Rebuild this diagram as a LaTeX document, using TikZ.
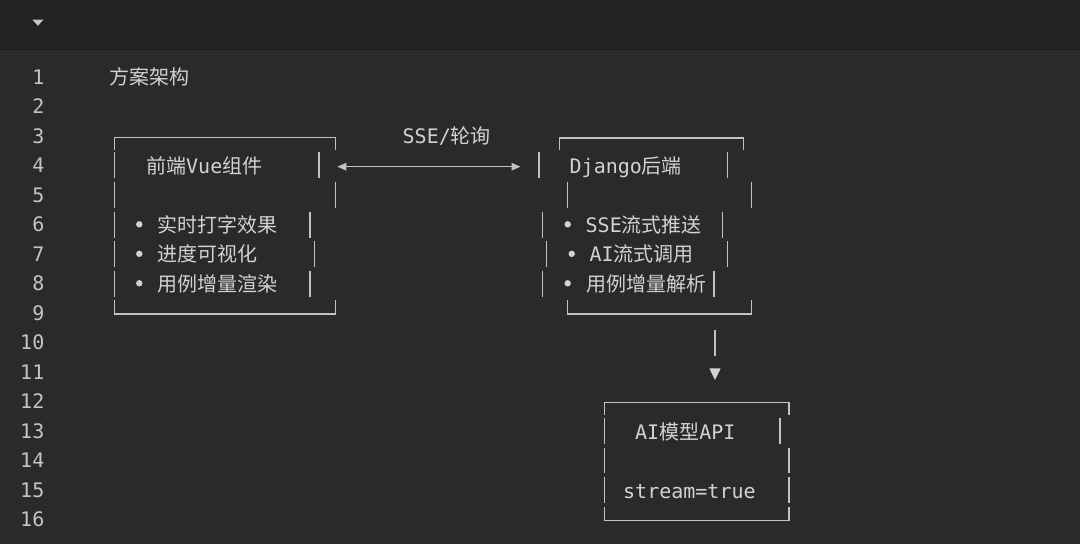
\documentclass[tikz,border=0pt]{standalone}
\usepackage{fontspec}
\setmainfont{DejaVu Sans Mono}
\newfontfamily\cjk{Noto Sans CJK SC}
\usetikzlibrary{arrows.meta}
\definecolor{bgmain}{HTML}{2A2A2A}
\definecolor{bgbar}{HTML}{232323}
\definecolor{sepline}{HTML}{1B1B1B}
\definecolor{ink}{HTML}{D2D2D2}
\definecolor{lineink}{HTML}{C2C2C2}
\definecolor{numink}{HTML}{C4C4C4}
\tikzset{
  txt/.style={anchor=base west,inner sep=0pt,text=ink,font=\fontsize{20}{24}\selectfont},
  lnum/.style={anchor=base east,inner sep=0pt,text=numink,font=\fontsize{20}{24}\selectfont},
  boxline/.style={draw=lineink,line width=1.4pt,line cap=butt},
  bullet/.style={fill=ink,draw=none},
  link/.style={draw=lineink,line width=1.4pt,{Triangle[length=9pt,width=7.5pt]}-{Triangle[length=9pt,width=7.5pt]}},
}
\begin{document}
\begin{tikzpicture}[x=1pt,y=-1pt]
\useasboundingbox (0,0) rectangle (1080,544);
\fill[bgmain] (0,0) rectangle (1080,544);
\fill[bgbar] (0,0) rectangle (1080,49);
\draw[sepline,line width=1.2pt] (0,49.5) -- (1080,49.5);
\fill[numink] (32.3,19.5) -- (43.5,19.5) -- (37.9,25.8) -- cycle;
% line numbers
\foreach \n in {1,...,16}{
  \node[lnum] (ln\n) at (44.5,{76.5+(\n-1)*29.53+7.5}) {\n};
}
% title
\node[txt] (title) at (109.5,84) {\cjk 方案架构};
% ---------- left box (lines 3-9) ----------
\draw[boxline] (114.3,149.5) -- (114.3,137.5) -- (335.7,137.5) -- (335.7,149.5);
\draw[boxline] (114.3,152.3) -- (114.3,178.3);
\draw[boxline] (319,152.3) -- (319,178.3);
\draw[boxline] (114.3,181.7) -- (114.3,208.3);
\draw[boxline] (335.7,181.7) -- (335.7,208.3);
\draw[boxline] (114.3,211.5) -- (114.3,237.8);
\draw[boxline] (310,211.5) -- (310,237.8);
\draw[boxline] (114.3,241.2) -- (114.3,267.2);
\draw[boxline] (314.3,241.2) -- (314.3,267.2);
\draw[boxline] (114.3,270.7) -- (114.3,296.7);
\draw[boxline] (310,270.7) -- (310,296.7);
\draw[boxline] (114.3,300) -- (114.3,314) -- (335.7,314) -- (335.7,300);
\node[txt] (fe) at (146,173) {{\cjk 前端}Vue{\cjk 组件}};
\fill[bullet] (139.3,224.3) circle (3.2);
\node[txt] (fe1) at (157.5,232) {\cjk 实时打字效果};
\fill[bullet] (139.3,253.8) circle (3.2);
\node[txt] (fe2) at (157.5,261.5) {\cjk 进度可视化};
\fill[bullet] (139.3,283.3) circle (3.2);
\node[txt] (fe3) at (157.5,291) {\cjk 用例增量渲染};
% ---------- connector ----------
\coordinate (sseL) at (337.3,166.7);
\coordinate (sseR) at (520.5,166.7);
\draw[link] (sseL) -- (sseR);
\node[txt] (sse) at (402.5,143.5) {SSE/{\cjk 轮询}};
% ---------- right box ----------
\draw[boxline] (559.3,149.5) -- (559.3,138) -- (743.3,138) -- (743.3,149.5);
\draw[boxline] (539,152.3) -- (539,178.3);
\draw[boxline] (727.3,152.3) -- (727.3,178.3);
\draw[boxline] (567.7,181.7) -- (567.7,208.3);
\draw[boxline] (751.7,181.7) -- (751.7,208.3);
\draw[boxline] (542.7,211.5) -- (542.7,237.8);
\draw[boxline] (722.3,211.5) -- (722.3,237.8);
\draw[boxline] (546.7,241.2) -- (546.7,267.2);
\draw[boxline] (727.3,241.2) -- (727.3,267.2);
\draw[boxline] (542.7,270.7) -- (542.7,296.7);
\draw[boxline] (714,270.7) -- (714,296.7);
\draw[boxline] (567.7,300) -- (567.7,314) -- (751.7,314) -- (751.7,300);
\node[txt] (be) at (569.5,173) {Django{\cjk 后端}};
\fill[bullet] (567.7,224.3) circle (3.2);
\node[txt] (be1) at (585.5,232) {SSE{\cjk 流式推送}};
\fill[bullet] (571.7,253.8) circle (3.2);
\node[txt] (be2) at (589.5,261.5) {AI{\cjk 流式调用}};
\fill[bullet] (567.7,283.3) circle (3.2);
\node[txt] (be3) at (586,291) {\cjk 用例增量解析};
% ---------- down connector ----------
\coordinate (dnA) at (715,330);
\coordinate (dnB) at (715,355.7);
\draw[boxline] (dnA) -- (dnB);
\fill[ink] (709.3,368.3) -- (720.7,368.3) -- (715,380) -- cycle;
% ---------- bottom box ----------
\draw[boxline] (604.3,415) -- (604.3,402.5) -- (789,402.5) -- (789,415);
\draw[boxline] (604.3,418.3) -- (604.3,444);
\draw[boxline] (780,418.3) -- (780,444);
\draw[boxline] (604.3,447.7) -- (604.3,473.3);
\draw[boxline] (789,447.7) -- (789,473.3);
\draw[boxline] (604.3,477.3) -- (604.3,503.3);
\draw[boxline] (789,477.3) -- (789,503.3);
\draw[boxline] (604.3,507.3) -- (604.3,520.7) -- (789,520.7) -- (789,507.3);
\node[txt] (ai) at (635,439.5) {AI{\cjk 模型}API};
\node[txt] (st) at (623,498.5) {stream=true};
\end{tikzpicture}
\end{document}
